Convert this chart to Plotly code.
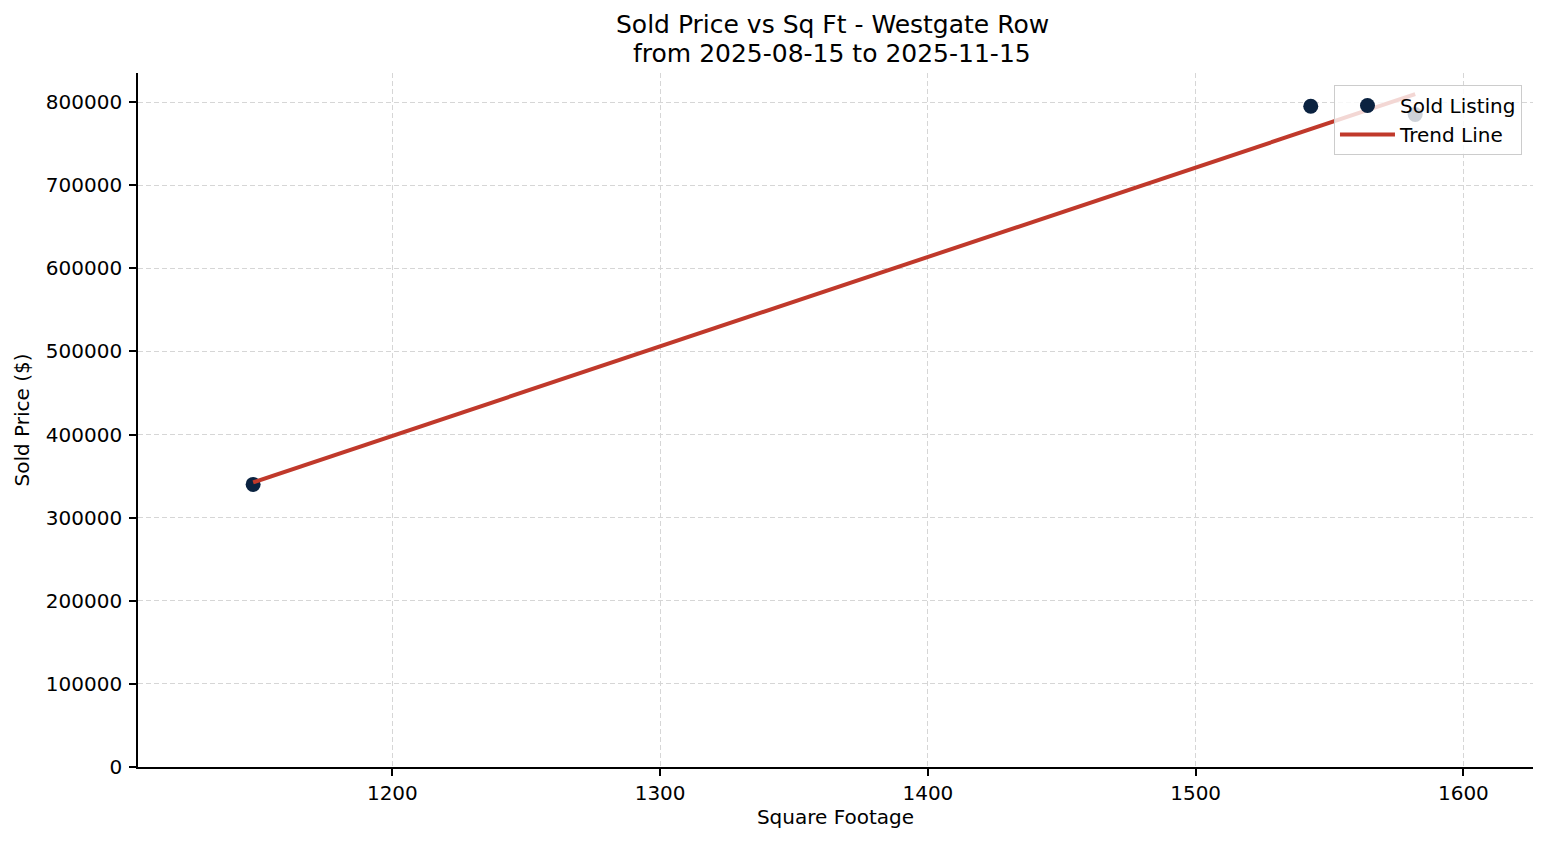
import plotly.graph_objects as go

# sold listings
sqft = [1148, 1543, 1582]
sold_price = [340000, 795000, 785000]

# trend line end points (fitted line from the original)
trend_x = [1148, 1582]
trend_y = [342500, 809500]

x_ticks = [1200, 1300, 1400, 1500, 1600]
y_ticks = [0, 100000, 200000, 300000, 400000, 500000, 600000, 700000, 800000]

title_lines = ['Sold Price vs Sq Ft - Westgate Row', 'from 2025-08-15 to 2025-11-15']

font = 'DejaVu Sans'

fig = go.Figure()
fig.add_trace(go.Scatter(x=sqft, y=sold_price, mode='markers', name='Sold Listing',
                         marker=dict(color='#0a2240', size=15)))
fig.add_trace(go.Scatter(x=trend_x, y=trend_y, mode='lines', name='Trend Line',
                         line=dict(color='#c0392b', width=4)))

axis_style = dict(showline=True, linecolor='black', linewidth=1.7,
                  ticks='outside', ticklen=7, tickwidth=1.7, tickcolor='black',
                  showgrid=True, gridcolor='#d6d6d6', griddash='5px,3px', gridwidth=1,
                  zeroline=False, automargin=False,
                  tickfont=dict(size=20, color='black', family=font))

fig.update_xaxes(range=[1105, 1626], tickvals=x_ticks,
                 title=dict(text='Square Footage', font=dict(size=20, family=font, color='black'), standoff=6),
                 **axis_style)
fig.update_yaxes(range=[0, 835000], tickvals=y_ticks, tickformat='d', ticklabelstandoff=3,
                 title=dict(text='Sold Price ($)', font=dict(size=20, family=font, color='black'), standoff=11),
                 **axis_style)

# two title lines as annotations so their spacing matches the original
fig.add_annotation(text=title_lines[0], x=0.4975, y=1.0692, xref='paper', yref='paper',
                   xanchor='center', yanchor='middle', showarrow=False,
                   font=dict(size=25, family=font, color='black'))
fig.add_annotation(text=title_lines[1], x=0.4975, y=1.0288, xref='paper', yref='paper',
                   xanchor='center', yanchor='middle', showarrow=False,
                   font=dict(size=25, family=font, color='black'))

# page has an 8px body margin, so the figure is shrunk by that much
fig.update_layout(
    width=1539, height=837,
    margin=dict(l=130, r=14, t=65, b=78),
    plot_bgcolor='white', paper_bgcolor='white',
    font=dict(family=font, color='black'),
    legend=dict(x=0.9921, y=0.9827, xanchor='right', yanchor='top', itemwidth=55,
                bgcolor='rgba(255,255,255,0.8)', bordercolor='#cccccc', borderwidth=1,
                font=dict(size=20, family=font, color='black')),
    showlegend=True,
)

fig.write_html("out.html")
